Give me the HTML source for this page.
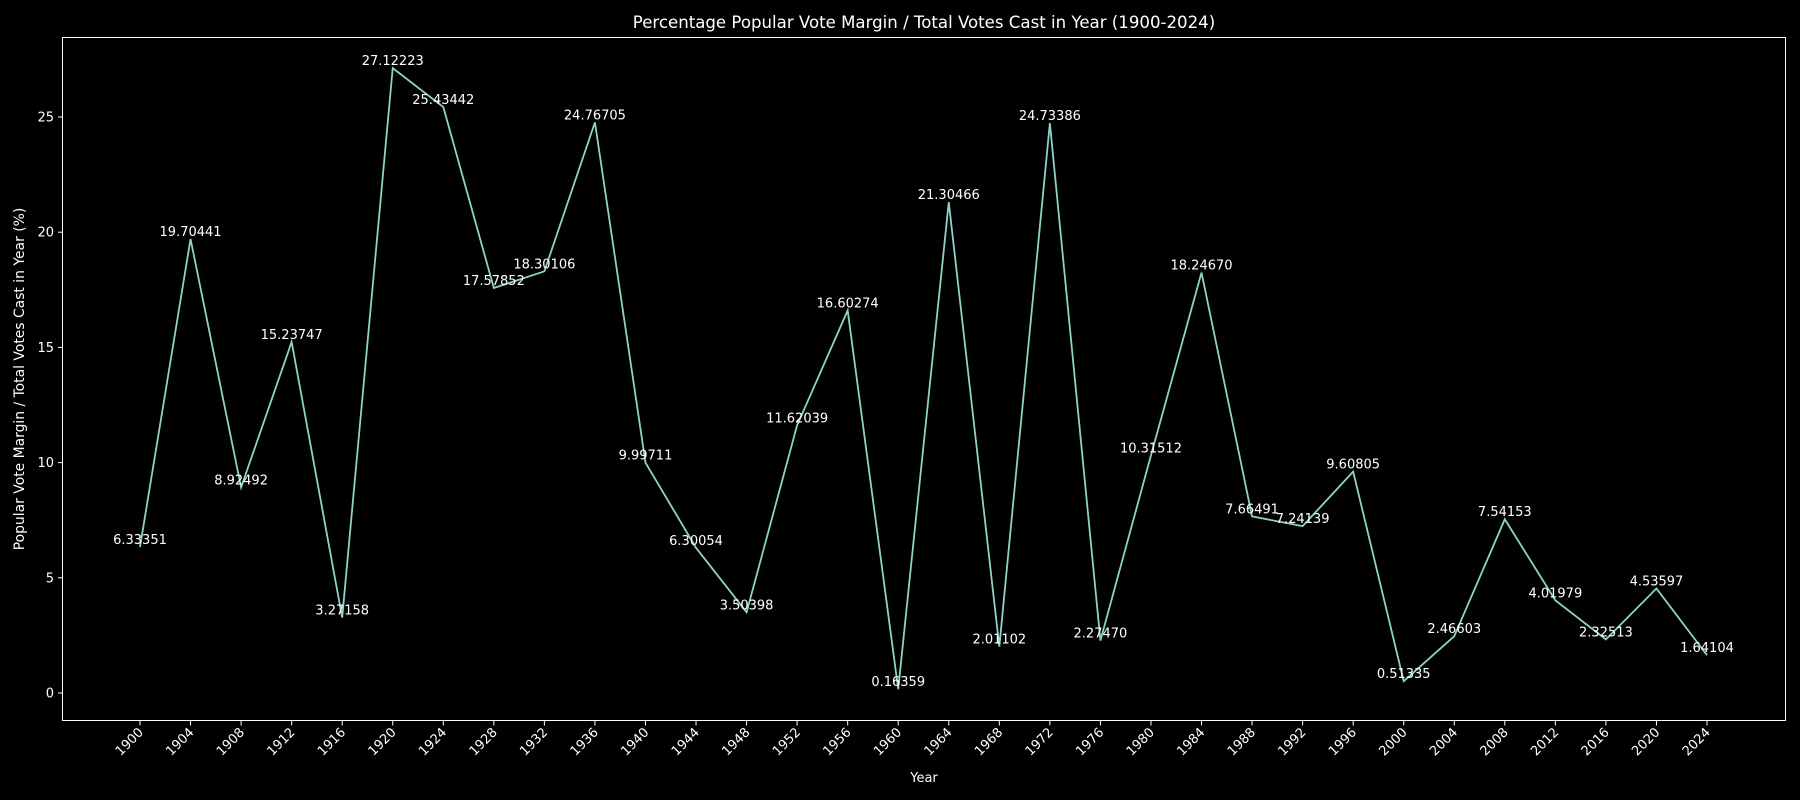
<!DOCTYPE html>
<html><head><meta charset="utf-8"><style>
html,body{margin:0;padding:0;background:#000;}
svg{display:block;font-family:"DejaVu Sans","Liberation Sans",sans-serif;}
</style></head><body>
<svg id="chart" width="1800" height="800" viewBox="0 0 1800 800">
<rect x="0" y="0" width="1800" height="800" fill="#000"/>
<text x="924" y="28" fill="#fff" font-size="16.6" text-anchor="middle">Percentage Popular Vote Margin / Total Votes Cast in Year (1900-2024)</text>
<text x="924" y="782" fill="#fff" font-size="13" text-anchor="middle">Year</text>
<text transform="translate(24,379) rotate(-90)" fill="#fff" font-size="13.9" text-anchor="middle">Popular Vote Margin / Total Votes Cast in Year (%)</text>
<rect x="62.5" y="37.5" width="1723" height="683" fill="none" stroke="#fff" stroke-width="1"/>
</svg>
<script>
const years = [1900,1904,1908,1912,1916,1920,1924,1928,1932,1936,1940,1944,1948,1952,1956,1960,1964,1968,1972,1976,1980,1984,1988,1992,1996,2000,2004,2008,2012,2016,2020,2024];
const margins = [6.33351,19.70441,8.92492,15.23747,3.27158,27.12223,25.43442,17.57852,18.30106,24.76705,9.99711,6.30054,3.50398,11.62039,16.60274,0.16359,21.30466,2.01102,24.73386,2.27470,10.31512,18.24670,7.66491,7.24139,9.60805,0.51335,2.46603,7.54153,4.01979,2.32513,4.53597,1.64104];
const labels = ["6.33351","19.70441","8.92492","15.23747","3.27158","27.12223","25.43442","17.57852","18.30106","24.76705","9.99711","6.30054","3.50398","11.62039","16.60274","0.16359","21.30466","2.01102","24.73386","2.27470","10.31512","18.24670","7.66491","7.24139","9.60805","0.51335","2.46603","7.54153","4.01979","2.32513","4.53597","1.64104"];
const yTicks = [0,5,10,15,20,25];

const NS="http://www.w3.org/2000/svg";
const svg=document.getElementById('chart');
const x0=140, x1=1707;
function xScale(yr){return x0+(yr-years[0])*(x1-x0)/(years[years.length-1]-years[0]);}
function yScale(v){return 693-v*(693-117)/25;}
function mk(tag,attrs,parent){const e=document.createElementNS(NS,tag);for(const k in attrs)e.setAttribute(k,attrs[k]);(parent||svg).appendChild(e);return e;}

yTicks.forEach(t=>{
  const y=yScale(t);
  const l=mk('line',{x1:58,x2:62.5,y1:y,y2:y,stroke:'#fff'});
  
  
  const tx=mk('text',{x:54,y:y+4.5,fill:'#fff','font-size':13,'text-anchor':'end'});
  tx.textContent=t;
  
  
});
years.forEach(yr=>{
  const x=xScale(yr);
  const l=mk('line',{x1:x,x2:x,y1:721,y2:725.5,stroke:'#fff'});
  
  
  const tx=mk('text',{x:0,y:0,fill:'#fff','font-size':13,'text-anchor':'end',transform:`translate(${x+4},${733}) rotate(-45)`});
  tx.textContent=yr;
  
  
});
const pts=years.map((yr,i)=>xScale(yr)+','+yScale(margins[i])).join(' ');
const line=mk('polyline',{points:pts,fill:'none',stroke:'#8dd3c7','stroke-width':1.8,'stroke-linejoin':'miter'});


years.forEach((yr,i)=>{
  const tx=mk('text',{x:xScale(yr),y:yScale(margins[i])-3,fill:'#fff','font-size':13,'text-anchor':'middle'});
  tx.textContent=labels[i];
  
  
});
</script>
</body></html>
